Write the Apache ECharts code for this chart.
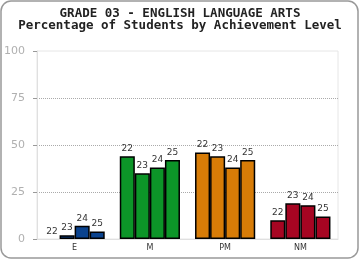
<!DOCTYPE html>
<html>
<head>
<meta charset="utf-8">
<script src="https://cdn.jsdelivr.net/npm/echarts@6/dist/echarts.min.js"></script>
<style>
  html, body { margin: 0; padding: 0; background: #fff; }
  #chart { width: 360px; height: 260px; }
</style>
</head>
<body>
<div id="chart"></div>
<script>
// données
const categories = ['E', 'M', 'PM', 'NM'];
const years = ['22', '23', '24', '25'];
const levelColors = ['#0b438e', '#0c9528', '#d77c07', '#a60522'];
const values22 = [0, 44, 46, 10];
const values23 = [2, 35, 44, 19];
const values24 = [7, 38, 38, 18];
const values25 = [4, 42, 42, 12];
const yTicks = [0, 25, 50, 75, 100];

const allValues = [values22, values23, values24, values25];

var chartDom = document.getElementById('chart');
var myChart = echarts.init(chartDom);

var series = years.map(function (yr, i) {
    return {
        name: yr,
        type: 'bar',
        barGap: 0,
        barCategoryGap: '20%',
        data: allValues[i].map(function (v, c) {
            // pas de bordure pour une barre à zéro
            return { value: v, itemStyle: { color: levelColors[c], borderWidth: v === 0 ? 0 : 1.5 } };
        }),
        itemStyle: { borderColor: '#000', borderWidth: 1.5 },
        label: {
            show: true,
            position: 'top',
            distance: 3,
            formatter: yr,
            fontSize: 9,
            fontFamily: 'DejaVu Sans',
            color: '#333'
        }
    };
});

var option = {
    animation: false,
    title: {
        text: 'GRADE 03 - ENGLISH LANGUAGE ARTS\nPercentage of Students by Achievement Level',
        left: 'center',
        top: 3,
        textStyle: {
            fontFamily: 'DejaVu Sans Mono',
            fontWeight: 'bold',
            fontSize: 12.5,
            lineHeight: 12,
            color: '#222'
        }
    },
    graphic: [{
        type: 'rect',
        shape: { x: 1, y: 1, width: 357, height: 257, r: 10 },
        style: { fill: 'none', stroke: '#999', lineWidth: 1.5 },
        silent: true
    }],
    grid: {
        left: 37, right: 22, top: 51, bottom: 21,
        show: true, borderColor: '#e6e6e6', borderWidth: 1,
        containLabel: false
    },
    xAxis: {
        type: 'category',
        data: categories,
        axisLine: { lineStyle: { color: '#e0e0e0' } },
        axisTick: { show: false },
        axisLabel: { fontSize: 8, color: '#333', margin: 5, fontFamily: 'DejaVu Sans' }
    },
    yAxis: {
        type: 'value',
        min: yTicks[0],
        max: yTicks[yTicks.length - 1],
        interval: 25,
        axisLine: { show: true, lineStyle: { color: '#e0e0e0' } },
        axisTick: { show: true, length: 4, lineStyle: { color: '#999' } },
        axisLabel: { fontSize: 11, color: '#b0b0b0', margin: 12, fontFamily: 'DejaVu Sans' },
        splitLine: { show: true, showMinLine: false, showMaxLine: false, lineStyle: { color: '#aaa', type: [1, 1], width: 1 } }
    },
    series: series
};

myChart.setOption(option);
window.addEventListener('resize', () => myChart.resize());
</script>
</body>
</html>
